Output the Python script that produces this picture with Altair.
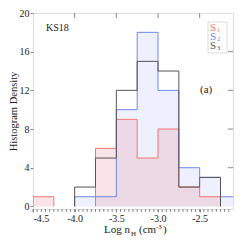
import altair as alt
import pandas as pd

edges = [-4.5, -4.25, -4.0, -3.75, -3.5, -3.25, -3.0, -2.75, -2.5, -2.25, -2.0]
s1 = [1, 0, 0, 6, 9, 5, 8, 2, 1, 0]
s2 = [0, 0, 1, 1, 10, 18, 12, 4, 3, 1]
s3 = [0, 0, 2, 5, 12, 15, 14, 2, 3, 0]
series_names = ["S1", "S2", "S3"]
line_colors = ["#f4756c", "#6d88ee", "#555555"]
x_major = [-4.5, -4.0, -3.5, -3.0, -2.5]
x_minor = [round(-4.5 + 0.05 * i, 2) for i in range(48)]
y_major = [0, 4, 8, 12, 16, 20]

W, H = 200, 196
XD = [-4.5, -2.1]
YD = [-0.27, 20]
lab_font = "Liberation Serif"

xs = alt.Scale(domain=XD, nice=False, zero=False)
ys = alt.Scale(domain=YD, nice=False, zero=False)

x_axis = alt.Axis(values=x_major, format=".1f",
    labelExpr="replace(datum.label, '\u2212', '-')", title=None, grid=False,
    domain=False, tickSize=3, tickColor="#888", labelFont=lab_font, labelFontSize=10,
    labelColor="#222", labelPadding=1)
y_axis = alt.Axis(values=y_major, title="Histogram Density",
    grid=False, domain=False, tickSize=3, tickColor="#888", labelFont=lab_font,
    labelFontSize=10, labelColor="#222", labelPadding=1, titleFont=lab_font,
    titleFontSize=10.5, titleFontWeight="normal", titleColor="#222", titlePadding=1)

X = alt.X("x:Q", scale=xs, axis=x_axis)
Y = alt.Y("y:Q", scale=ys, axis=y_axis)

# area data (step-after)
area_rows = []
for name, vals in [("S1", s1), ("S2", s2)]:
    for i, v in enumerate(vals):
        area_rows.append({"s": name, "x": edges[i], "y": v})
    area_rows.append({"s": name, "x": edges[-1], "y": vals[-1]})
adf = pd.DataFrame(area_rows)

# outline segments
seg_rows = []
for name, vals in zip(series_names, [s1, s2, s3]):
    for i, v in enumerate(vals):
        if v != 0:
            seg_rows.append({"s": name, "x": edges[i], "x2": edges[i + 1], "y": v, "y2": v})
    for i in range(len(edges)):
        prev = vals[i - 1] if i > 0 else 0
        cur = vals[i] if i < len(vals) else 0
        if prev != cur:
            seg_rows.append({"s": name, "x": edges[i], "x2": edges[i], "y": prev, "y2": cur})
sdf = pd.DataFrame(seg_rows)

blue_area = alt.Chart(adf[adf.s == "S2"]).mark_area(
    interpolate="step-after", color="#eef0fd", clip=True
).encode(x=X, y=Y, y2=alt.datum(0))
red_area = alt.Chart(adf[adf.s == "S1"]).mark_area(
    interpolate="step-after", color="#ee9aa8", opacity=0.28, clip=True
).encode(x=X, y=Y, y2=alt.datum(0))

seg_layers = []
for name, col in zip(series_names, line_colors):
    seg_layers.append(
        alt.Chart(sdf[sdf.s == name]).mark_rule(color=col, strokeWidth=1, clip=True).encode(
            x=X, x2="x2:Q", y=Y, y2="y2:Q"
        )
    )

axis_xminor = alt.Chart(pd.DataFrame({"x": x_minor})).mark_rule(color="#888").encode(
    x=X, y=alt.value(H), y2=alt.value(H + 3)
)
top_ticks = alt.Chart(pd.DataFrame({"x": x_major[1:]})).mark_rule(color="#888").encode(
    x=X, y=alt.value(0), y2=alt.value(5)
)
right_ticks = alt.Chart(pd.DataFrame({"y": y_major[1:-1]})).mark_rule(color="#888").encode(
    y=Y, x=alt.value(W - 5), x2=alt.value(W)
)

def txt(s, x, y, size=11, color="#222", align="left"):
    return alt.Chart(pd.DataFrame({"t": [s]})).mark_text(
        font=lab_font, fontSize=size, color=color, align=align, baseline="alphabetic"
    ).encode(text="t:N", x=alt.value(x), y=alt.value(y))

texts = [
    txt("KS18", 13, 18, 10),
    txt("(a)", 167, 80, 11),
    txt("Log n", 71, 220, 11),
    txt("H", 98, 223, 7),
    txt("(cm", 106, 220, 11),
    txt("-3", 123, 216, 7),
    txt(")", 130, 220, 11),
]
legend_box = alt.Chart(pd.DataFrame({"a": [0]})).mark_rect(
    fill="white", stroke="#dddddd", strokeWidth=1
).encode(x=alt.value(175), x2=alt.value(194), y=alt.value(9), y2=alt.value(40))
leg = []
for i, (col, sub) in enumerate(zip(line_colors, ["1", "2", "3"])):
    by = 18 + 9 * i
    leg.append(txt("S", 177, by, 11, col))
    leg.append(txt(sub, 184, by + 1, 6.5, col))

chart = alt.layer(
    blue_area, red_area, *seg_layers, axis_xminor, top_ticks, right_ticks,
    *texts, legend_box, *leg
).properties(
    width=W, height=H, autosize="none",
    padding={"left": 25, "top": 5, "right": 7, "bottom": 28},
).configure_view(stroke="#888", strokeWidth=1).configure(background="white")

chart.save("out.html", embed_options={"renderer": "svg", "actions": False})
